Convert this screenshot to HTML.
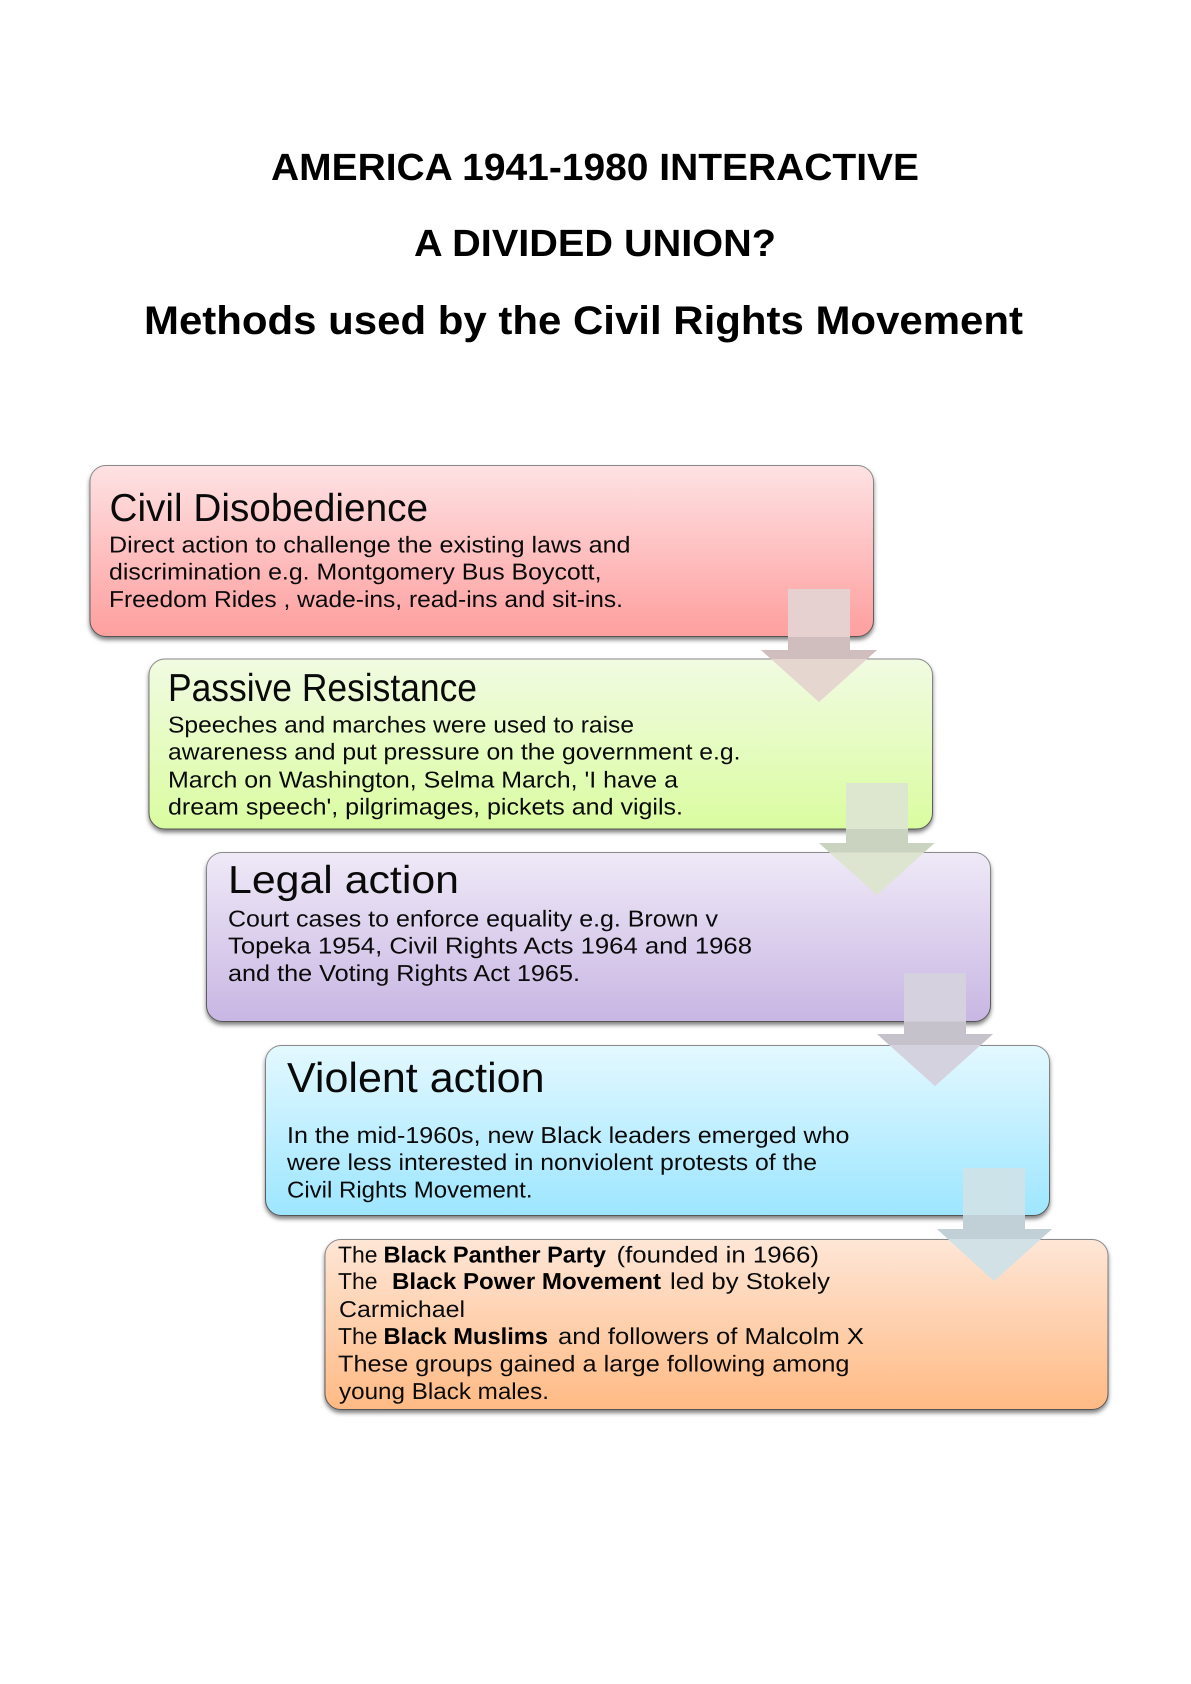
<!DOCTYPE html>
<html lang="en">
<head>
<meta charset="utf-8">
<title>Methods used by the Civil Rights Movement</title>
<style>
html,body{margin:0;padding:0;background:#fff;width:1191px;height:1684px;overflow:hidden}
svg{display:block}
text{font-family:"Liberation Sans",sans-serif;fill:#0a0a0a;text-rendering:geometricPrecision}
.t{font-weight:700;font-size:38px;fill:#000}
.h{font-size:39px}
.b{font-size:23px}
.s{font-size:23px;font-weight:700;fill:#000}
</style>
</head>
<body>
<svg width="1191" height="1684" viewBox="0 0 1191 1684" xmlns="http://www.w3.org/2000/svg">
<defs>
<linearGradient id="g1" x1="0" y1="0" x2="0" y2="1"><stop offset="0" stop-color="#fee2e3"/><stop offset=".9" stop-color="#fea5a5"/><stop offset="1" stop-color="#fea0a0"/></linearGradient>
<linearGradient id="g2" x1="0" y1="0" x2="0" y2="1"><stop offset="0" stop-color="#f1fbe2"/><stop offset="1" stop-color="#dafca0"/></linearGradient>
<linearGradient id="g3" x1="0" y1="0" x2="0" y2="1"><stop offset="0" stop-color="#efe9f7"/><stop offset="1" stop-color="#c8b6e3"/></linearGradient>
<linearGradient id="g4" x1="0" y1="0" x2="0" y2="1"><stop offset="0" stop-color="#e3f8ff"/><stop offset="1" stop-color="#9de6ff"/></linearGradient>
<linearGradient id="g5" x1="0" y1="0" x2="0" y2="1"><stop offset="0" stop-color="#fee6d6"/><stop offset="1" stop-color="#ffba84"/></linearGradient>
<linearGradient id="st" x1="0" y1="0" x2="0" y2="1"><stop offset="0" stop-color="#8a8a8a"/><stop offset="1" stop-color="#555"/></linearGradient>
<filter id="sh" x="-5%" y="-5%" width="110%" height="115%"><feDropShadow dx="0" dy="3" stdDeviation="2" flood-color="#000" flood-opacity=".5"/></filter>
<clipPath id="b1"><rect x="700" y="637" width="250" height="22"/></clipPath>
<clipPath id="b2"><rect x="760" y="829" width="250" height="23.5"/></clipPath>
<clipPath id="b3"><rect x="820" y="1021.5" width="250" height="23.5"/></clipPath>
<clipPath id="b4"><rect x="880" y="1215" width="250" height="24"/></clipPath>
<clipPath id="n1"><rect x="700" y="659" width="250" height="50"/></clipPath>
<clipPath id="n2"><rect x="760" y="852.5" width="250" height="50"/></clipPath>
<clipPath id="n3"><rect x="820" y="1045" width="250" height="50"/></clipPath>
<clipPath id="n4"><rect x="880" y="1239" width="250" height="50"/></clipPath>
</defs>

<text class="t" x="271" y="180" textLength="648" lengthAdjust="spacingAndGlyphs">AMERICA 1941-1980 INTERACTIVE</text>
<text class="t" x="414" y="256" textLength="362" lengthAdjust="spacingAndGlyphs">A DIVIDED UNION?</text>
<text class="t" x="144" y="334" textLength="879" lengthAdjust="spacingAndGlyphs" style="font-size:40px">Methods used by the Civil Rights Movement</text>

<g stroke="url(#st)" stroke-width="1" filter="url(#sh)">
<rect x="90" y="465.5" width="783.5" height="171" rx="16" fill="url(#g1)"/>
</g>
<g stroke="url(#st)" stroke-width="1" filter="url(#sh)">
<rect x="149" y="659" width="783.5" height="170" rx="16" fill="url(#g2)"/>
</g>
<g stroke="url(#st)" stroke-width="1" filter="url(#sh)">
<rect x="206.5" y="852.5" width="784" height="169" rx="16" fill="url(#g3)"/>
</g>
<g stroke="url(#st)" stroke-width="1" filter="url(#sh)">
<rect x="265.5" y="1045.5" width="784" height="170" rx="16" fill="url(#g4)"/>
</g>
<g stroke="url(#st)" stroke-width="1" filter="url(#sh)">
<rect x="325" y="1239.5" width="783" height="170" rx="16" fill="url(#g5)"/>
</g>

<text class="h" x="109.5" y="521" textLength="318.5" lengthAdjust="spacingAndGlyphs">Civil Disobedience</text>
<text class="b" x="109" y="552.5" textLength="521.5" lengthAdjust="spacingAndGlyphs">Direct action to challenge the existing laws and</text>
<text class="b" x="109" y="579.5" textLength="492.5" lengthAdjust="spacingAndGlyphs">discrimination  e.g. Montgomery Bus Boycott,</text>
<text class="b" x="109" y="607" textLength="514" lengthAdjust="spacingAndGlyphs">Freedom Rides , wade-ins, read-ins and sit-ins.</text>

<text class="h" x="168" y="701" textLength="309" lengthAdjust="spacingAndGlyphs">Passive Resistance</text>
<text class="b" x="168" y="732.7" textLength="466" lengthAdjust="spacingAndGlyphs">Speeches and marches were used to raise</text>
<text class="b" x="168" y="759.5" textLength="572.5" lengthAdjust="spacingAndGlyphs">awareness and put pressure on the government e.g.</text>
<text class="b" x="168" y="787.3" textLength="510" lengthAdjust="spacingAndGlyphs">March on Washington, Selma March, 'I have a</text>
<text class="b" x="168" y="814.3" textLength="515" lengthAdjust="spacingAndGlyphs">dream speech', pilgrimages, pickets and vigils.</text>

<text class="h" x="228" y="893" textLength="231" lengthAdjust="spacingAndGlyphs">Legal action</text>
<text class="b" x="228" y="926.5" textLength="490" lengthAdjust="spacingAndGlyphs">Court cases to enforce equality e.g. Brown v</text>
<text class="b" x="228" y="953.5" textLength="524" lengthAdjust="spacingAndGlyphs">Topeka 1954, Civil Rights Acts 1964 and 1968</text>
<text class="b" x="228" y="981" textLength="352" lengthAdjust="spacingAndGlyphs">and the Voting Rights Act 1965.</text>

<text class="h" x="287" y="1092" textLength="257.5" lengthAdjust="spacingAndGlyphs" style="font-size:42px">Violent action</text>
<text class="b" x="287" y="1143" textLength="562.5" lengthAdjust="spacingAndGlyphs">In the mid-1960s, new Black leaders emerged who</text>
<text class="b" x="287" y="1170" textLength="530" lengthAdjust="spacingAndGlyphs">were less interested in nonviolent protests of the</text>
<text class="b" x="287" y="1197.5" textLength="245.5" lengthAdjust="spacingAndGlyphs">Civil Rights Movement.</text>

<text class="b" x="338" y="1262.5" textLength="39.5" lengthAdjust="spacingAndGlyphs">The</text>
<text class="s" x="383.5" y="1262.5" textLength="222.5" lengthAdjust="spacingAndGlyphs">Black Panther Party</text>
<text class="b" x="616.5" y="1262.5" textLength="202.5" lengthAdjust="spacingAndGlyphs">(founded in 1966)</text>
<text class="b" x="338" y="1289" textLength="39.5" lengthAdjust="spacingAndGlyphs">The</text>
<text class="s" x="392" y="1289" textLength="269" lengthAdjust="spacingAndGlyphs">Black Power Movement</text>
<text class="b" x="670" y="1289" textLength="160" lengthAdjust="spacingAndGlyphs">led by Stokely</text>
<text class="b" x="339" y="1317" textLength="126" lengthAdjust="spacingAndGlyphs">Carmichael</text>
<text class="b" x="338" y="1344" textLength="39.5" lengthAdjust="spacingAndGlyphs">The</text>
<text class="s" x="383.5" y="1344" textLength="164.5" lengthAdjust="spacingAndGlyphs">Black Muslims</text>
<text class="b" x="558" y="1344" textLength="306" lengthAdjust="spacingAndGlyphs">and followers of Malcolm X</text>
<text class="b" x="338" y="1371.5" textLength="511.5" lengthAdjust="spacingAndGlyphs">These groups gained a large following among</text>
<text class="b" x="339" y="1399" textLength="210" lengthAdjust="spacingAndGlyphs">young Black males.</text>

<polygon points="788,589 850,589 850,650 877,650 819,702 761,650 788,650" fill="#e7d0d0"/>
<polygon points="788,589 850,589 850,650 877,650 819,702 761,650 788,650" fill="#e6d6d0" clip-path="url(#n1)"/>
<polygon points="788,589 850,589 850,650 877,650 819,702 761,650 788,650" fill="#d0bdbd" clip-path="url(#b1)"/>

<polygon points="846,783 908,783 908,843 934.5,843 877,895 819,843 846,843" fill="#dde6cf"/>
<polygon points="846,783 908,783 908,843 934.5,843 877,895 819,843 846,843" fill="#dde5d0" clip-path="url(#n2)"/>
<polygon points="846,783 908,783 908,843 934.5,843 877,895 819,843 846,843" fill="#cad3c0" clip-path="url(#b2)"/>

<polygon points="904,973 966,973 966,1034 993,1034 935,1086 877,1034 904,1034" fill="#d5d1de"/>
<polygon points="904,973 966,973 966,1034 993,1034 935,1086 877,1034 904,1034" fill="#d5d2e0" clip-path="url(#n3)"/>
<polygon points="904,973 966,973 966,1034 993,1034 935,1086 877,1034 904,1034" fill="#c6c2cc" clip-path="url(#b3)"/>

<polygon points="963,1168 1025,1168 1025,1229 1052,1229 994,1281 937,1229 963,1229" fill="#cde3ea"/>
<polygon points="963,1168 1025,1168 1025,1229 1052,1229 994,1281 937,1229 963,1229" fill="#d2e1e6" clip-path="url(#n4)"/>
<polygon points="963,1168 1025,1168 1025,1229 1052,1229 994,1281 937,1229 963,1229" fill="#c0d0d6" clip-path="url(#b4)"/>
</svg>
</body>
</html>
